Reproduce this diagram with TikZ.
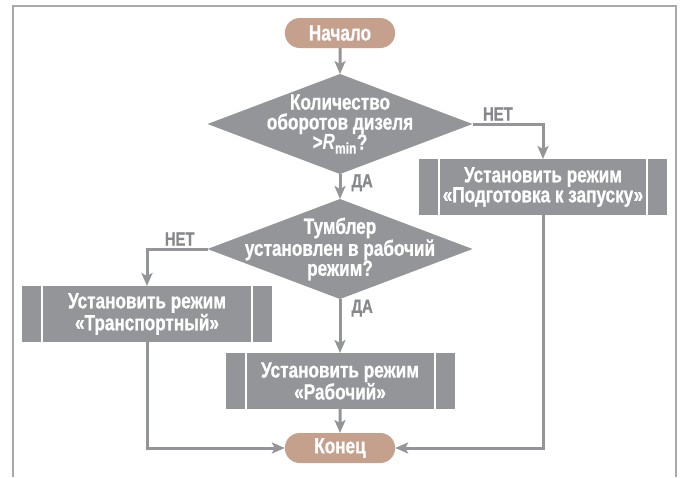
\documentclass[tikz,border=0pt]{standalone}
\usepackage{fontspec}
\setmainfont{Liberation Sans}[FakeStretch=0.78, BoldFeatures={FakeBold=0.8}]
\usetikzlibrary{shapes.geometric, shapes.misc, positioning, arrows.meta}

\definecolor{boxgray}{HTML}{939598}
\definecolor{pilltan}{HTML}{C4A08D}
\definecolor{framegray}{HTML}{A7A9AC}
\definecolor{answergray}{HTML}{86888B}

\begin{document}
\begin{tikzpicture}[
    x=1pt, y=-1pt,
    terminal/.style={
        rounded rectangle,
        fill=pilltan,
        minimum width=117pt,
        minimum height=30pt,
        outer sep=0pt,
        text=white,
        font=\fontsize{22}{19.5}\selectfont\bfseries
    },
    decision/.style={
        diamond,
        fill=boxgray,
        inner sep=0pt,
        outer sep=0pt,
        minimum width=265pt,
        minimum height=100pt
    },
    dtext/.style={
        align=center,
        text=white,
        inner sep=0pt,
        font=\fontsize{22}{20}\selectfont\bfseries
    },
    process/.style={
        rectangle,
        fill=boxgray,
        minimum height=56pt,
        outer sep=0pt,
        align=center,
        text=white,
        font=\fontsize{22}{20}\selectfont\bfseries,
        path picture={
            \draw[white, line width=2pt]
                ([xshift=20pt]path picture bounding box.north west) --
                ([xshift=20pt]path picture bounding box.south west);
            \draw[white, line width=2pt]
                ([xshift=-20pt]path picture bounding box.north east) --
                ([xshift=-20pt]path picture bounding box.south east);
        }
    },
    flow/.style={
        >={Stealth[length=13pt, width=11pt, inset=3pt]},
        ->,
        line width=3pt,
        boxgray
    },
    answer/.style={
        text=answergray,
        inner sep=2pt,
        font=\fontsize{19}{20}\selectfont\bfseries
    },
    frame/.style={
        line width=1.5pt,
        framegray
    }
]
    \useasboundingbox (0,0) rectangle (685,477);

    % Frame
    \draw[frame] (13,477) -- (13,6) -- (676,6) -- (676,477);

    % Nodes
    \node[terminal] (start) at (340,33) {Начало};
    \node[decision, below=26pt of start,
        label={[dtext]center:{Количество\\оборотов дизеля\\>\textit{R}\textsubscript{min}?}}] (askrpm) {};
    \node[decision, below=25pt of askrpm,
        label={[dtext]center:{Тумблер\\установлен в рабочий\\режим?}}] (askswitch) {};
    \node[process, minimum width=229pt, below=54pt of askswitch] (work) {Установить режим\\«Рабочий»};
    \node[terminal, below=24pt of work] (finish) {Конец};
    \node[process, minimum width=248pt] (prep) at (543,187) {Установить режим\\«Подготовка к запуску»};
    \node[process, minimum width=250pt] (transp) at (147,314) {Установить режим\\«Транспортный»};

    % Connectors
    \draw[flow] (start) -- (askrpm);
    \draw[flow] (askrpm) -- node[answer, pos=0.35, anchor=west, xshift=8pt] {ДА} (askswitch);
    \draw[flow] (askrpm.east) -| node[answer, pos=0.18, above] {НЕТ} (prep.north);
    \draw[flow] (askswitch) -- node[answer, pos=0.17, anchor=west, xshift=8pt] {ДА} (work);
    \draw[flow] (askswitch.west) -| node[answer, pos=0.23, above] {НЕТ} (transp.north);
    \draw[flow] (work) -- (finish);
    \draw[flow] (transp.south) |- (finish.west);
    \draw[flow] (prep.south) |- (finish.east);

\end{tikzpicture}
\end{document}
